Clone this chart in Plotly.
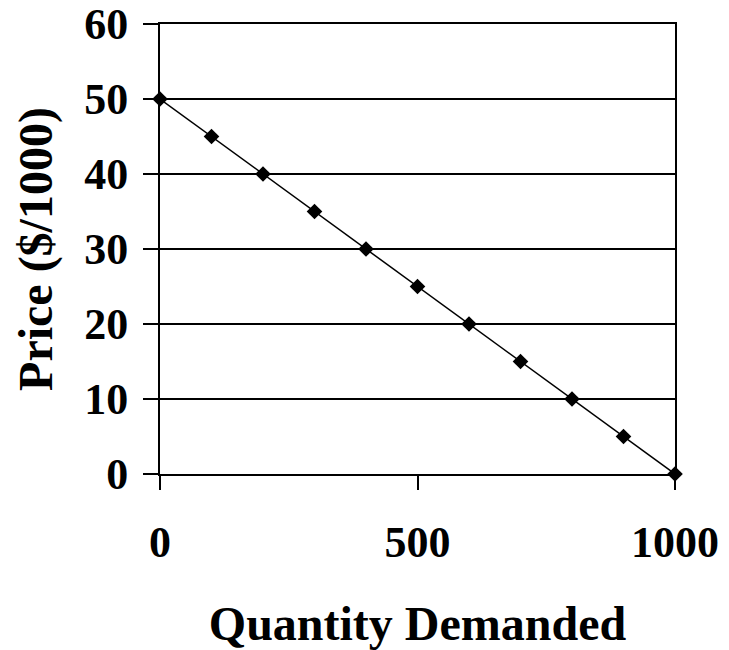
import plotly.graph_objects as go

quantity = [0, 100, 200, 300, 400, 500, 600, 700, 800, 900, 1000]
price = [50, 45, 40, 35, 30, 25, 20, 15, 10, 5, 0]
x_ticks = [0, 500, 1000]
y_ticks = [0, 10, 20, 30, 40, 50, 60]

font_family = "Liberation Serif, Times New Roman, serif"

fig = go.Figure()
fig.add_trace(go.Scatter(
    x=quantity, y=price, mode="lines+markers",
    line=dict(color="black", width=1.5),
    marker=dict(symbol="diamond", size=12, color="black"),
    showlegend=False, cliponaxis=False,
))

fig.update_layout(
    width=729, height=650,
    margin=dict(l=160, r=54, t=24, b=176),
    paper_bgcolor="white", plot_bgcolor="white",
    font=dict(family=font_family, color="black"),
    xaxis=dict(
        range=[0, 1000], tickvals=x_ticks, ticks="outside", ticklen=14,
        tickwidth=2, tickcolor="black", showgrid=False, zeroline=False,
        showline=True, linecolor="black", linewidth=2, mirror=True,
        tickfont=dict(size=44, family=font_family, weight="bold"),
        ticklabelstandoff=14, automargin=False,
        title=dict(text="<b>Quantity Demanded</b>", font=dict(size=48), standoff=48),
    ),
    yaxis=dict(
        range=[0, 60], tickvals=y_ticks, ticks="outside", ticklen=15,
        tickwidth=2, tickcolor="black", showgrid=True, gridcolor="black",
        gridwidth=2, zeroline=False,
        showline=True, linecolor="black", linewidth=2, mirror=True,
        tickfont=dict(size=44, family=font_family, weight="bold"),
        ticklabelstandoff=6, automargin=False,
        title=dict(text="<b>Price ($/1000)</b>", font=dict(size=48), standoff=16),
    ),
)

fig.write_html("out.html")
